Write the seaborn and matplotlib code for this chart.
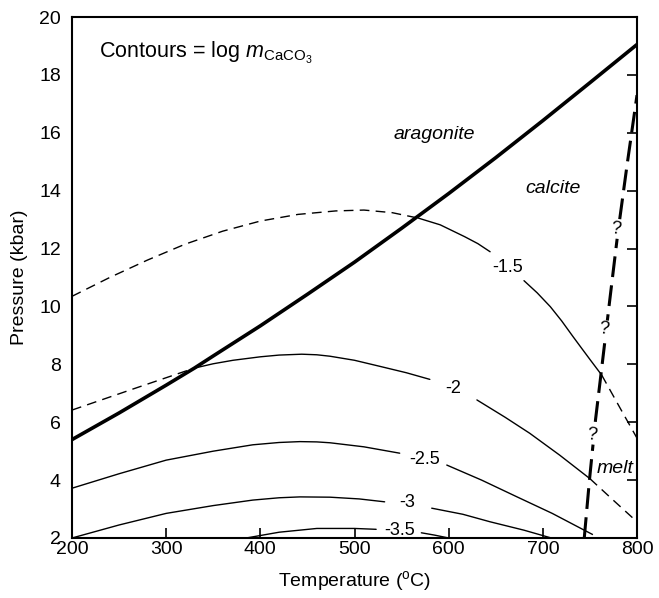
import numpy as np
import pandas as pd
import matplotlib
matplotlib.use("Agg")
import matplotlib.pyplot as plt
import seaborn as sns

# ---- phase boundaries (T in degC, P in kbar) ----
arag_cc_T = [200, 250, 300, 330, 350, 400, 450, 500, 550, 600, 650, 700, 750, 800]
arag_cc_P = [5.40, 6.32, 7.28, 7.87, 8.29, 9.33, 10.42, 11.53, 12.70, 13.90,
             15.14, 16.42, 17.73, 19.05]

melt_T = [744, 749.5, 756, 763, 771, 779.5, 789.5, 800]
melt_P = [2.0, 4.0, 6.1, 8.0, 10.2, 12.5, 14.9, 17.3]

# ---- solubility contours, log m(CaCO3) ----
# each contour: metastable (dashed) pieces and stable (solid) pieces split at the label
c15_dash_a_T = [200, 240, 280, 320, 360, 400, 440, 480, 510, 540, 568]
c15_dash_a_P = [10.35, 11.0, 11.6, 12.15, 12.6, 12.95, 13.18, 13.3, 13.33, 13.24, 13.05]
c15_solid_a_T = [568, 591, 617, 631, 644]
c15_solid_a_P = [13.05, 12.82, 12.41, 12.17, 11.89]
c15_solid_b_T = [680, 694, 708, 720, 732, 742, 750, 762.5]
c15_solid_b_P = [10.89, 10.47, 9.99, 9.5, 8.96, 8.52, 8.17, 7.63]
c15_dash_b_T = [762.5, 781, 800]
c15_dash_b_P = [7.63, 6.55, 5.45]

c20_dash_a_T = [200, 265, 330]
c20_dash_a_P = [6.42, 7.15, 7.87]
c20_solid_a_T = [330, 350, 371, 400, 420, 444, 460, 474, 500, 527, 555, 580]
c20_solid_a_P = [7.87, 8.02, 8.14, 8.26, 8.32, 8.35, 8.33, 8.28, 8.14, 7.93, 7.71, 7.48]
c20_solid_b_T = [630, 660, 686, 718, 750]
c20_solid_b_P = [6.77, 6.17, 5.62, 4.86, 4.05]
c20_dash_b_T = [750, 775, 800]
c20_dash_b_P = [4.05, 3.30, 2.56]

c25_solid_a_T = [200, 250, 300, 350, 392, 420, 442, 460, 474, 510, 548]
c25_solid_a_P = [3.72, 4.22, 4.69, 5.0, 5.22, 5.30, 5.33, 5.32, 5.29, 5.15, 4.93]
c25_solid_b_T = [598, 635, 672, 710, 744]
c25_solid_b_P = [4.52, 4.0, 3.43, 2.85, 2.27]
c25_dash_b_T = [744, 760]
c25_dash_b_P = [2.27, 2.0]

c30_solid_a_T = [200, 250, 300, 350, 392, 420, 442, 474, 505, 532]
c30_solid_a_P = [2.0, 2.45, 2.85, 3.12, 3.31, 3.39, 3.42, 3.41, 3.35, 3.25]
c30_solid_b_T = [582, 615, 644, 680, 709]
c30_solid_b_P = [3.03, 2.82, 2.56, 2.27, 2.0]

c35_solid_a_T = [385, 420, 460, 500, 523]
c35_solid_a_P = [2.0, 2.2, 2.33, 2.33, 2.3]
c35_solid_b_T = [571, 585, 600]
c35_solid_b_P = [2.18, 2.1, 2.0]

contour_labels = ["-1.5", "-2", "-2.5", "-3", "-3.5"]
contour_label_T = [663, 605, 575, 556, 548]
contour_label_P = [11.35, 7.17, 4.70, 3.24, 2.27]

question_T = [777.5, 765, 752]
question_P = [12.67, 9.2, 5.56]

x_ticks = [200, 300, 400, 500, 600, 700, 800]
y_ticks = [2, 4, 6, 8, 10, 12, 14, 16, 18, 20]

# ---- styling ----
sns.set_theme(style="white")
plt.rcParams["font.family"] = ["Liberation Sans", "DejaVu Sans"]
plt.rcParams["mathtext.fontset"] = "custom"
plt.rcParams["mathtext.rm"] = "Liberation Sans"
plt.rcParams["mathtext.it"] = "Liberation Sans:italic"
plt.rcParams["lines.scale_dashes"] = False
plt.rcParams["text.color"] = "black"
plt.rcParams["axes.labelcolor"] = "black"
plt.rcParams["xtick.color"] = "black"
plt.rcParams["ytick.color"] = "black"

fig = plt.figure(figsize=(6.59, 5.98), dpi=100)
ax = fig.add_axes([72 / 659, 1 - 538 / 598, (637 - 72) / 659, (538 - 17) / 598])

thin = 1.0
dash_thin = (0, (7, 4.5))


def draw(T, P, **kw):
    df = pd.DataFrame({"T": T, "P": P})
    sns.lineplot(data=df, x="T", y="P", sort=False, estimator=None,
                 color="black", ax=ax, **kw)


dashed_sets = [(c15_dash_a_T, c15_dash_a_P), (c15_dash_b_T, c15_dash_b_P),
               (c20_dash_a_T, c20_dash_a_P), (c20_dash_b_T, c20_dash_b_P),
               (c25_dash_b_T, c25_dash_b_P)]
solid_sets = [(c15_solid_a_T, c15_solid_a_P), (c15_solid_b_T, c15_solid_b_P),
              (c20_solid_a_T, c20_solid_a_P), (c20_solid_b_T, c20_solid_b_P),
              (c25_solid_a_T, c25_solid_a_P), (c25_solid_b_T, c25_solid_b_P),
              (c30_solid_a_T, c30_solid_a_P), (c30_solid_b_T, c30_solid_b_P),
              (c35_solid_a_T, c35_solid_a_P), (c35_solid_b_T, c35_solid_b_P)]

for T, P in dashed_sets:
    draw(T, P, linewidth=thin, linestyle=dash_thin, zorder=2)
for T, P in solid_sets:
    draw(T, P, linewidth=thin, linestyle="-", zorder=2)

# aragonite / calcite reaction
draw(arag_cc_T, arag_cc_P, linewidth=2.6, linestyle="-", zorder=4,
     solid_capstyle="butt")
# calcite melting (uncertain)
draw(melt_T, melt_P, linewidth=2.2, linestyle=(0, (15, 6)), zorder=4)

for lab, t, p in zip(contour_labels, contour_label_T, contour_label_P):
    ax.text(t, p, lab, ha="center", va="center", fontsize=13, zorder=5)

for t, p in zip(question_T, question_P):
    ax.text(t, p, "?", ha="center", va="center", fontsize=13, rotation=-7,
            zorder=5,
            bbox=dict(boxstyle="square,pad=0.05", fc="white", ec="none"))

ax.text(585, 15.93, "aragonite", style="italic", fontsize=14,
        ha="center", va="center")
ax.text(711, 14.08, "calcite", style="italic", fontsize=14,
        ha="center", va="center")
ax.text(777, 4.41, "melt", style="italic", fontsize=14,
        ha="center", va="center")
ax.text(229, 18.75, r"Contours = log $\mathit{m}_{\mathrm{CaCO_3}}$",
        fontsize=15.5, ha="left", va="center")

ax.set_xlim(200, 800)
ax.set_ylim(2, 20)
ax.set_xticks(x_ticks)
ax.set_yticks(y_ticks)
ax.set_xlabel("Temperature ($^{\\mathrm{o}}$C)", fontsize=14, labelpad=8)
ax.set_ylabel("Pressure (kbar)", fontsize=14, labelpad=8)
ax.tick_params(axis="both", direction="in", length=7, width=1.2,
               color="black", labelsize=14, labelcolor="black")
ax.tick_params(axis="x", pad=2)
ax.tick_params(axis="y", pad=8, right=True)
ax.tick_params(axis="x", bottom=True, top=False)
for s in ax.spines.values():
    s.set_color("black")
    s.set_linewidth(1.5)
ax.grid(False)
ax.set_facecolor("white")

fig.savefig("out.png", dpi=100, facecolor="white")
